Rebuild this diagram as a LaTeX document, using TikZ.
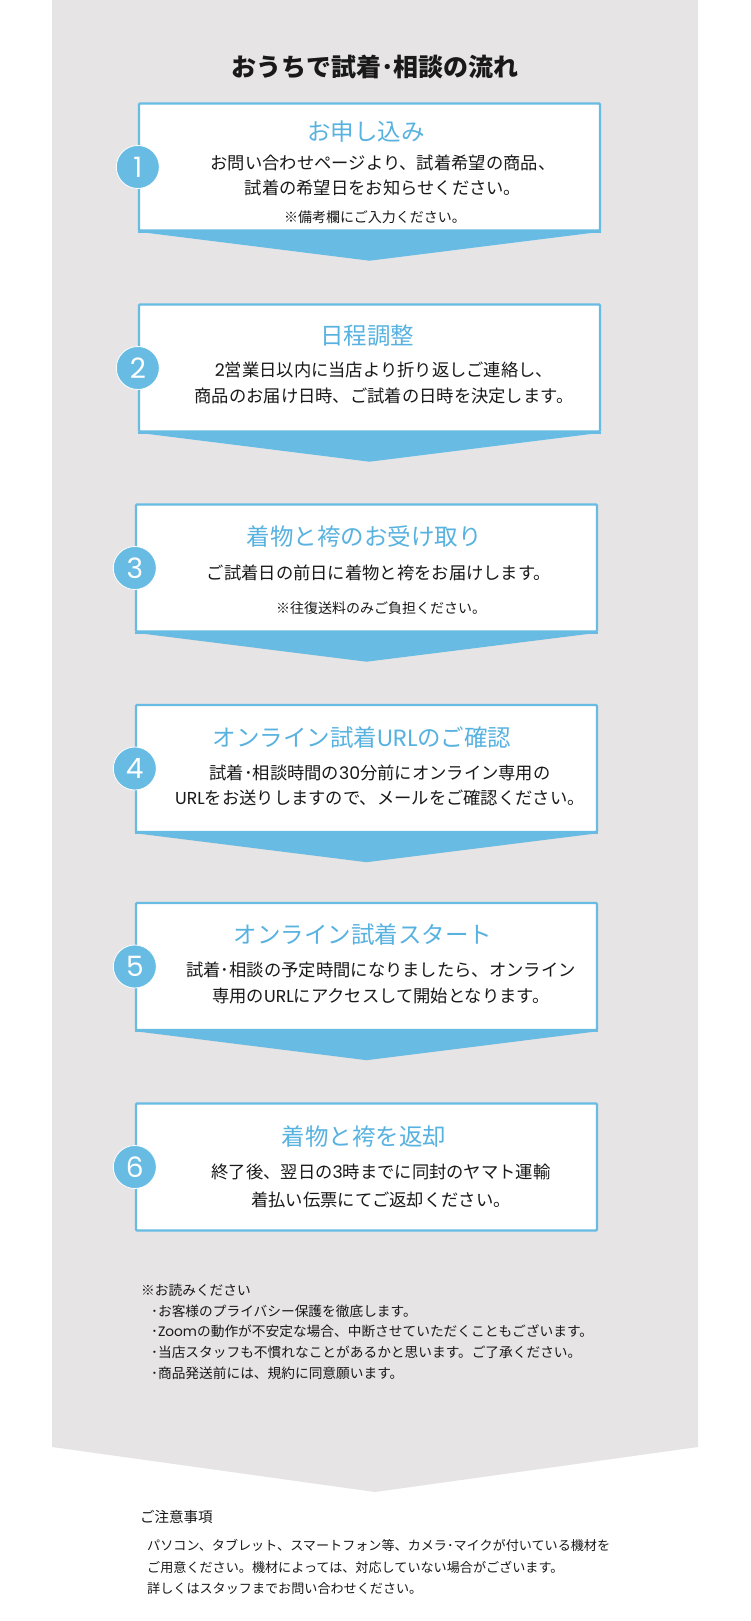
\documentclass[tikz,border=0pt]{standalone}
\usepackage{fontspec}
\setmainfont{Noto Sans CJK JP}
\newfontfamily\numfont{Poppins}
\newcommand{\lat}[1]{{\numfont #1}}
\definecolor{flowblue}{RGB}{104,188,227}
\definecolor{titleblue}{RGB}{88,178,224}
\definecolor{bggray}{RGB}{230,228,229}
\definecolor{inktext}{RGB}{25,25,25}
\tikzset{
  stepbox/.style={draw=flowblue, line width=2.4pt, fill=white, rounded corners=1pt,
    minimum width=461pt, minimum height=127pt, inner sep=0pt},
  numcirc/.style={circle, fill=flowblue, draw=white, line width=0.8pt, minimum size=43pt,
    inner sep=0pt, text=white, font=\numfont\fontsize{28}{30}\selectfont},
  steptitle/.style={inner sep=0pt, text=titleblue, font=\fontsize{23.5}{26}\selectfont},
  stepbody/.style={inner sep=0pt, text=inktext, align=center, font=\fontsize{17.3}{25.5}\selectfont},
  stepnote/.style={inner sep=0pt, text=inktext, font=\fontsize{14}{16}\selectfont},
  smalltext/.style={inner sep=0pt, text=inktext, anchor=west, font=\fontsize{13.7}{16}\selectfont},
  arrowtri/.style={fill=flowblue}
}
\begin{document}
\begin{tikzpicture}[x=1pt,y=-1pt]
\useasboundingbox (0,0) rectangle (750,1621);
% gray background with chevron bottom
\fill[bggray] (52,0) -- (698,0) -- (698,1447) -- (375,1492) -- (52,1447) -- cycle;

% main title
\node[inner sep=0pt, text=inktext, font=\bfseries\fontsize{25}{28}\selectfont] (title) at (375,67) {おうちで試着･相談の流れ};

% boxes
\node[stepbox] (b1) at (369.5,167) {};
\node[stepbox] (b2) at (369.5,368) {};
\node[stepbox] (b3) at (366.5,568) {};
\node[stepbox] (b4) at (366.5,768.5) {};
\node[stepbox] (b5) at (366.5,966.5) {};
\node[stepbox] (b6) at (366.5,1167) {};

% arrow triangles below boxes 1-5
\foreach \b in {b1,b2,b3,b4,b5}{
  \fill[arrowtri] (\b.south west) -- (\b.south east) -- ([yshift=-29pt]\b.south) -- cycle;
  \draw[flowblue, line width=2.4pt] (\b.south west) -- (\b.south east);
}

% number circles
\node[numcirc] (c1) at (b1.west) {1};
\node[numcirc] (c2) at (b2.west) {2};
\node[numcirc] (c3) at (b3.west) {3};
\node[numcirc] (c4) at (b4.west) {4};
\node[numcirc] (c5) at (b5.west) {5};
\node[numcirc] (c6) at (b6.west) {6};

% step 1
\node[steptitle] (t1) at (366,132) {お申し込み};
\node[stepbody] (d1) at (383,175.5) {お問い合わせページより、試着希望の商品、\\試着の希望日をお知らせください。};
\node[stepnote] (n1) at (375,217) {※備考欄にご入力ください。};

% step 2
\node[steptitle] (t2) at (367,336) {日程調整};
\node[stepbody] (d2) at (384,383) {\lat{2}営業日以内に当店より折り返しご連絡し、\\商品のお届け日時、ご試着の日時を決定します。};

% step 3
\node[steptitle] (t3) at (364,537) {着物と袴のお受け取り};
\node[stepbody] (d3) at (379,573) {ご試着日の前日に着物と袴をお届けします。};
\node[stepnote] (n3) at (381,608) {※往復送料のみご負担ください。};

% step 4
\node[steptitle] (t4) at (362,738) {オンライン試着\lat{URL}のご確認};
\node[stepbody] (d4) at (380,785.5) {試着･相談時間の\lat{30}分前にオンライン専用の\\\lat{URL}をお送りしますので、メールをご確認ください。};

% step 5
\node[steptitle] (t5) at (363,935) {オンライン試着スタート};
\node[stepbody] (d5) at (381,983) {試着･相談の予定時間になりましたら、オンライン\\専用の\lat{URL}にアクセスして開始となります。};

% step 6
\node[steptitle] (t6) at (364,1137) {着物と袴を返却};
\node[stepbody, font=\fontsize{17.3}{27.5}\selectfont] (d6) at (381,1186) {終了後、翌日の\lat{3}時までに同封のヤマト運輸\\着払い伝票にてご返却ください。};

% notes in gray area
\node[smalltext] (rh) at (141,1290) {※お読みください};
\node[smalltext] (r1) at (151,1311) {･お客様のプライバシー保護を徹底します。};
\node[smalltext] (r2) at (151,1331.5) {･\lat{Zoom}の動作が不安定な場合、中断させていただくこともございます。};
\node[smalltext] (r3) at (151,1352) {･当店スタッフも不慣れなことがあるかと思います。ご了承ください。};
\node[smalltext] (r4) at (151,1373) {･商品発送前には、規約に同意願います。};

% bottom notice
\node[smalltext, font=\fontsize{14.5}{16}\selectfont] (ch) at (140,1517) {ご注意事項};
\node[smalltext, font=\fontsize{13.1}{16}\selectfont] (p1) at (147,1545) {パソコン、タブレット、スマートフォン等、カメラ･マイクが付いている機材を};
\node[smalltext, font=\fontsize{13.1}{16}\selectfont] (p2) at (147,1567) {ご用意ください。機材によっては、対応していない場合がございます。};
\node[smalltext, font=\fontsize{13.1}{16}\selectfont] (p3) at (147,1588) {詳しくはスタッフまでお問い合わせください。};
\end{tikzpicture}
\end{document}
